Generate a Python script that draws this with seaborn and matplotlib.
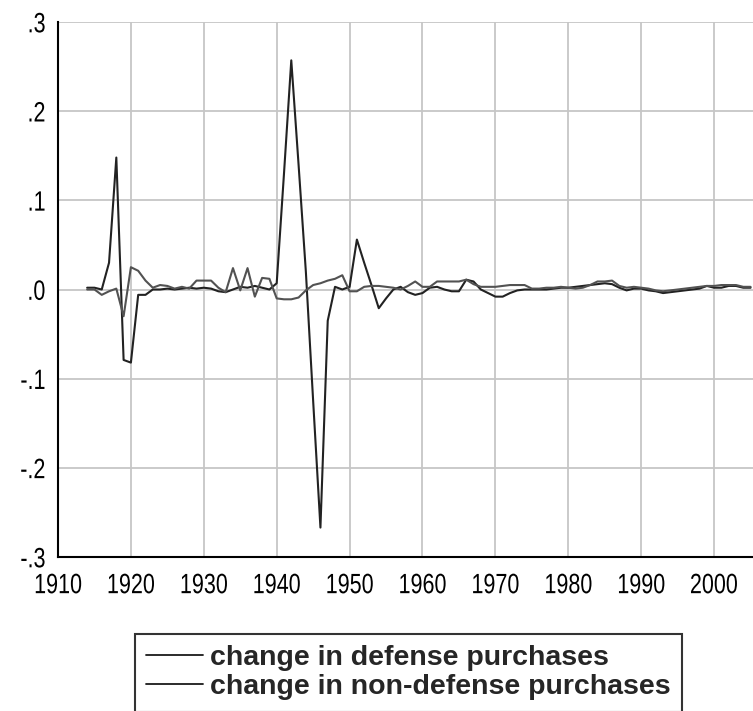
import matplotlib
matplotlib.use("Agg")
import matplotlib.pyplot as plt
import matplotlib.ticker as mticker
from matplotlib.patheffects import AbstractPathEffect
from matplotlib.transforms import Affine2D
from matplotlib.lines import Line2D
import numpy as np
import pandas as pd
import seaborn as sns

years = list(range(1914, 2006))

defense = [
    0.002, 0.002, 0.000, 0.030, 0.148, -0.079, -0.082, -0.006, -0.006, 0.000,   # 1914-1923
    0.000, 0.001, 0.000, 0.001, 0.002, 0.001, 0.002, 0.001, -0.002, -0.003,     # 1924-1933
    0.000, 0.003, 0.002, 0.004, 0.002, 0.000, 0.007, 0.130, 0.257, 0.140,      # 1934-1943
    0.020, -0.125, -0.267, -0.035, 0.003, 0.000, 0.003, 0.056, 0.030, 0.005,   # 1944-1953
    -0.021, -0.010, 0.000, 0.003, -0.003, -0.006, -0.004, 0.002, 0.003, 0.000, # 1954-1963
    -0.002, -0.002, 0.011, 0.009, 0.000, -0.004, -0.008, -0.008, -0.004, -0.001, # 1964-1973
    0.000, 0.000, 0.000, 0.000, 0.001, 0.002, 0.002, 0.003, 0.004, 0.005,      # 1974-1983
    0.006, 0.007, 0.006, 0.002, -0.001, 0.001, 0.001, -0.001, -0.002, -0.004,  # 1984-1993
    -0.003, -0.002, -0.001, 0.000, 0.001, 0.004, 0.002, 0.002, 0.004, 0.004,   # 1994-2003
    0.002, 0.002,                                                              # 2004-2005
]

nondefense = [
    0.000, 0.000, -0.006, -0.002, 0.001, -0.030, 0.025, 0.021, 0.010, 0.002,   # 1914-1923
    0.005, 0.004, 0.001, 0.003, 0.001, 0.010, 0.010, 0.010, 0.002, -0.003,     # 1924-1933
    0.024, -0.001, 0.024, -0.008, 0.013, 0.012, -0.010, -0.011, -0.011, -0.009, # 1934-1943
    -0.001, 0.005, 0.007, 0.010, 0.012, 0.016, -0.002, -0.002, 0.003, 0.004,   # 1944-1953
    0.004, 0.003, 0.002, 0.000, 0.004, 0.009, 0.003, 0.003, 0.009, 0.009,      # 1954-1963
    0.009, 0.009, 0.011, 0.006, 0.003, 0.003, 0.003, 0.004, 0.005, 0.005,      # 1964-1973
    0.005, 0.001, 0.001, 0.002, 0.002, 0.003, 0.002, 0.001, 0.002, 0.005,      # 1974-1983
    0.009, 0.009, 0.010, 0.004, 0.002, 0.003, 0.002, 0.001, -0.001, -0.002,    # 1984-1993
    -0.001, 0.000, 0.001, 0.002, 0.003, 0.004, 0.004, 0.005, 0.005, 0.005,     # 1994-2003
    0.003, 0.003,                                                              # 2004-2005
]

series_names = ["change in defense purchases", "change in non-defense purchases"]
x_ticks = list(range(1910, 2010, 10))
y_ticks = [-0.3, -0.2, -0.1, 0.0, 0.1, 0.2, 0.3]

df = pd.DataFrame({
    "year": years * 2,
    "value": defense + nondefense,
    "series": [series_names[0]] * len(years) + [series_names[1]] * len(years),
})


class VStretch(AbstractPathEffect):
    """Stretch glyphs vertically (text stays text) about a local anchor height."""

    def __init__(self, sy, anchor):
        super().__init__()
        self.sy = sy
        self.anchor = anchor

    def draw_path(self, renderer, gc, tpath, affine, rgbFace=None):
        t = (Affine2D().translate(0, -self.anchor).scale(1, self.sy)
             .translate(0, self.anchor) + affine)
        renderer.draw_path(gc, tpath, t, rgbFace)


sns.set_style("white")
plt.rcParams["font.family"] = ["Liberation Sans", "DejaVu Sans"]

fig = plt.figure(figsize=(7.53, 7.11), dpi=100)
ax = fig.add_axes([58 / 753, 154 / 711, 695 / 753, 535 / 711])

palette = {series_names[0]: "#222222", series_names[1]: "#525252"}
sns.lineplot(data=df, x="year", y="value", hue="series", palette=palette,
             linewidth=1.5, ax=ax, legend=False)

ax.set_xlim(1910, 1910 + 695 / 7.29)
ax.set_ylim(-0.3, 0.3)
ax.set_xticks(x_ticks)
ax.xaxis.set_minor_locator(mticker.MultipleLocator(2))
ax.set_yticks(y_ticks)


def yfmt(v, pos):
    s = f"{v:.1f}"
    s = s.replace("0.", ".")
    if s == "-.0":
        s = ".0"
    return s


ax.yaxis.set_major_formatter(mticker.FuncFormatter(yfmt))
ax.grid(True, which="major", color="#c6c6c6", linewidth=1.3)
ax.set_axisbelow(True)
for side in ["top", "right"]:
    ax.spines[side].set_visible(False)
for side in ["left", "bottom"]:
    ax.spines[side].set_color("black")
    ax.spines[side].set_linewidth(1.5)

ax.tick_params(axis="x", which="major", direction="out", length=7, width=1.3,
               labelsize=15.5, pad=4.2, colors="black")
ax.tick_params(axis="x", which="minor", direction="out", length=4.5, width=1.1,
               colors="black")
ax.tick_params(axis="y", which="major", direction="out", length=6, width=1.3,
               labelsize=15.5, pad=3, colors="black")
ax.set_xlabel("")
ax.set_ylabel("")

for lab in ax.get_xticklabels():
    lab.set_path_effects([VStretch(1.3, 71.6)])
for lab in ax.get_yticklabels():
    lab.set_path_effects([VStretch(1.3, 35.8)])

handles = [Line2D([0], [0], color="#1a1a1a", lw=1.3),
           Line2D([0], [0], color="#1a1a1a", lw=1.3)]
leg = fig.legend(handles, series_names, loc="upper left",
                 bbox_to_anchor=(135 / 753, 1 - 634 / 711),
                 frameon=True, fancybox=False, edgecolor="black",
                 prop={"size": 20.5, "weight": "bold"},
                 handlelength=2.0, handletextpad=0.25, borderpad=0.4,
                 labelspacing=0.1, borderaxespad=0)
leg.get_frame().set_linewidth(1.5)

fig.savefig("out.png", dpi=100)
